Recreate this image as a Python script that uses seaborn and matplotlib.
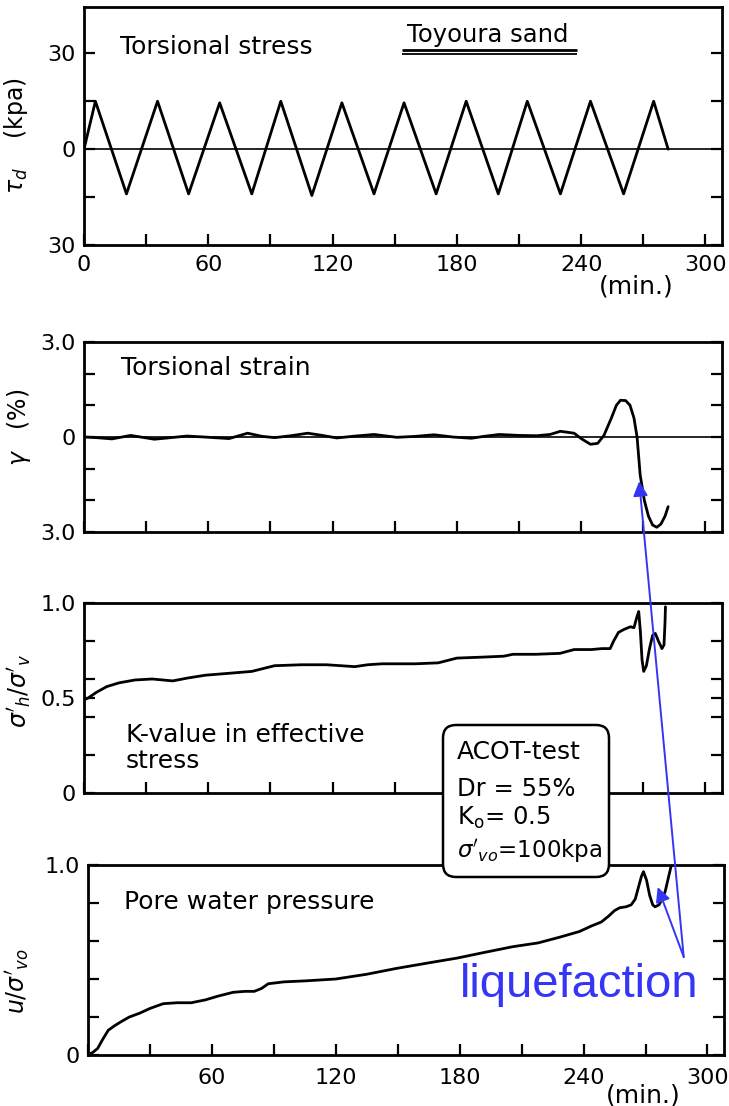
import matplotlib
matplotlib.use("Agg")
import matplotlib.pyplot as plt
import seaborn as sns
from matplotlib.patches import FancyBboxPatch, ConnectionPatch

# ---------------- data ----------------
t_stress = [0, 5.5, 20.5, 35.5, 50.5, 65.5, 81, 95, 110, 124.5, 140, 154.5, 170,
            184.5, 200, 214, 230, 244.5, 260.5, 275, 282]
stress = [0, 15, -14, 15, -14, 14.5, -14, 15, -14.5, 14.5, -14, 14.5, -14,
          15, -14, 15, -14, 15, -14, 15, 0]

t_strain = [0, 6, 13.5, 22.5, 34, 42, 49.6, 58, 70, 79, 86, 92, 100, 108, 115, 122,
            131, 140, 151, 160, 169, 178, 187, 193, 200.5, 210, 218.6, 225, 230, 236.6,
            240, 244.5, 248, 251, 254.6, 257, 259, 261.5, 263.6, 265.5, 267, 268.5,
            270.5, 272.5, 274.5, 276.5, 278.5, 280.5, 282]
strain = [0, -0.02, -0.06, 0.05, -0.07, -0.02, 0.03, 0.0, -0.05, 0.12, 0.02, -0.02,
          0.04, 0.12, 0.05, -0.03, 0.03, 0.08, -0.01, 0.02, 0.07, 0.0, -0.04, 0.02,
          0.08, 0.05, 0.04, 0.08, 0.18, 0.12, -0.05, -0.23, -0.2, 0.05, 0.6, 1.0,
          1.16, 1.15, 1.0, 0.6, 0.0, -1.2, -2.0, -2.5, -2.78, -2.85, -2.75, -2.5, -2.2]

t_k = [0, 2, 6, 11, 17, 24.7, 33, 42.8, 50, 58.6, 70, 81, 92, 105, 117, 124, 130.7,
       137, 144, 160, 171, 180, 192, 202.7, 207, 218, 229.8, 236.6, 245, 250, 254,
       255.7, 258, 260.5, 263.8, 265.5, 267, 267.8, 268.6, 269.4, 270.2, 271.5, 273,
       274.5, 275.8, 277.3, 279, 280, 280.5, 280.7]
k_value = [0.49, 0.5, 0.53, 0.56, 0.58, 0.595, 0.6, 0.59, 0.605, 0.62, 0.63, 0.64,
           0.67, 0.675, 0.675, 0.67, 0.665, 0.675, 0.68, 0.68, 0.685, 0.71, 0.715,
           0.72, 0.73, 0.73, 0.735, 0.755, 0.755, 0.76, 0.76, 0.8, 0.845, 0.86, 0.875,
           0.87, 0.93, 0.955, 0.85, 0.7, 0.64, 0.67, 0.76, 0.83, 0.84, 0.8, 0.76,
           0.78, 0.9, 0.98]

t_pwp = [0, 2.5, 4.7, 7, 9.8, 13, 16, 20, 25, 30, 36.4, 43, 50, 56.8, 63, 70.3, 76,
         80.5, 84, 87.3, 95, 105, 120, 135, 149, 165, 178.7, 192, 205.7, 218, 228.4,
         238, 244, 248.6, 252, 255, 257.5, 260.5, 263, 265, 266.5, 268, 269, 270.5,
         272, 273.5, 274.6, 276.5, 278, 279.5, 281, 282.5]
pwp = [0, 0.015, 0.035, 0.08, 0.13, 0.155, 0.175, 0.2, 0.22, 0.245, 0.27, 0.275,
       0.275, 0.29, 0.31, 0.33, 0.335, 0.335, 0.35, 0.375, 0.385, 0.39, 0.40, 0.425,
       0.455, 0.485, 0.51, 0.54, 0.57, 0.59, 0.62, 0.65, 0.68, 0.70, 0.73, 0.76,
       0.775, 0.78, 0.79, 0.82, 0.88, 0.94, 0.965, 0.92, 0.84, 0.79, 0.78, 0.79,
       0.82, 0.86, 0.93, 1.0]

time_ticks = [0, 30, 60, 90, 120, 150, 180, 210, 240, 270, 300]
time_labels = ["0", "", "60", "", "120", "", "180", "", "240", "", "300"]
time_labels_bottom = ["", "", "60", "", "120", "", "180", "", "240", "", "300"]

# ---------------- style ----------------
sns.set_style("ticks")
plt.rcParams["font.family"] = ["DejaVu Sans"]
plt.rcParams["mathtext.fontset"] = "dejavusans"
for key in ("text.color", "axes.labelcolor", "xtick.color", "ytick.color",
            "axes.edgecolor"):
    plt.rcParams[key] = "black"

BLUE = "#3535f5"
W, H = 729, 1106
fig = plt.figure(figsize=(W / 100, H / 100), dpi=100)


def add_ax(left, top, right, bottom):
    return fig.add_axes([left / W, 1 - bottom / H, (right - left) / W, (bottom - top) / H])


ax1 = add_ax(84, 7, 722, 245)
ax2 = add_ax(84, 342, 722, 532)
ax3 = add_ax(84, 603, 722, 793)
ax4 = add_ax(88, 865, 724, 1055)

for ax in (ax1, ax2, ax3, ax4):
    for s in ax.spines.values():
        s.set_linewidth(2.0)
        s.set_color("black")
    ax.tick_params(direction="in", length=8, width=1.6, labelsize=16,
                   left=True, right=True, bottom=True, top=False,
                   colors="black", labelcolor="black")
    ax.set_xlim(0, 308)
    ax.set_xticks(time_ticks)

lw = 2.0
TXT = 18
# panel 1
sns.lineplot(x=t_stress, y=stress, ax=ax1, color="black", lw=lw, sort=False, estimator=None)
ax1.axhline(0, color="black", lw=1.2)
ax1.set_ylim(-30, 44.5)
ax1.set_yticks([-30, -15, 0, 15, 30])
ax1.set_yticklabels(["30", "", "0", "", "30"])
ax1.set_xticklabels(time_labels)
ax1.tick_params(axis="x", pad=7)
ax1.tick_params(axis="y", pad=6)
ax1.set_ylabel(r"$\tau_d$    (kpa)", fontsize=17)
ax1.yaxis.set_label_coords(-0.085, 0.46)
ax1.text(17.4, 31.9, "Torsional stress", fontsize=TXT, va="center", ha="left")
ax1.text(156, 35.6, "Toyoura sand", fontsize=17.5, va="center", ha="left")
ax1.hlines(30.9, 153.5, 238, color="black", lw=2.0)
ax1.hlines(29.7, 153.5, 238, color="black", lw=1.3)
ax1.text(266.5, -0.175, "(min.)", transform=ax1.get_xaxis_transform(),
         fontsize=18, ha="center", va="center")

# panel 2
sns.lineplot(x=t_strain, y=strain, ax=ax2, color="black", lw=lw, sort=False, estimator=None)
ax2.axhline(0, color="black", lw=1.2)
ax2.set_ylim(-3, 3)
ax2.set_yticks([-3, -2, -1, 0, 1, 2, 3])
ax2.set_yticklabels(["3.0", "", "", "0", "", "", "3.0"])
ax2.set_xticklabels([])
ax2.tick_params(axis="y", pad=6)
ax2.set_ylabel(r"$\gamma$   (%)", fontsize=17)
ax2.yaxis.set_label_coords(-0.08, 0.55)
ax2.text(17.9, 2.18, "Torsional strain", fontsize=TXT, va="center", ha="left")

# panel 3
sns.lineplot(x=t_k, y=k_value, ax=ax3, color="black", lw=lw, sort=False, estimator=None)
ax3.set_ylim(0, 1)
ax3.set_yticks([0, 0.2, 0.4, 0.5, 0.6, 0.8, 1.0])
ax3.set_yticklabels(["0", "", "", "0.5", "", "", "1.0"])
ax3.set_xticklabels([])
ax3.tick_params(axis="y", pad=6)
ax3.set_ylabel(r"$\sigma'_h/\sigma'_v$", fontsize=17)
ax3.yaxis.set_label_coords(-0.08, 0.54)
ax3.text(20.3, 0.235, "K-value in effective\nstress", fontsize=TXT, va="center",
         ha="left", linespacing=1.1)

# panel 4
sns.lineplot(x=t_pwp, y=pwp, ax=ax4, color="black", lw=lw, sort=False, estimator=None)
ax4.set_ylim(0, 1)
ax4.set_yticks([0, 0.2, 0.4, 0.6, 0.8, 1.0])
ax4.set_yticklabels(["0", "", "", "", "", "1.0"])
ax4.set_xticklabels(time_labels_bottom)
ax4.tick_params(axis="x", pad=9)
ax4.tick_params(axis="y", pad=6)
ax4.set_ylabel(r"$u/\sigma'_{vo}$", fontsize=17)
ax4.yaxis.set_label_coords(-0.09, 0.39)
ax4.text(17.4, 0.805, "Pore water pressure", fontsize=TXT, va="center", ha="left")
ax4.text(269, -0.215, "(min.)", transform=ax4.get_xaxis_transform(),
         fontsize=18, ha="center", va="center")

for ax in (ax1, ax2, ax3, ax4):
    ax.set_xlabel("")

# info box (figure inches, origin bottom-left)
box = FancyBboxPatch((4.43, (H - 877) / 100), 1.66, 1.52,
                     boxstyle="round,pad=0,rounding_size=0.13",
                     transform=fig.dpi_scale_trans, fc="white", ec="black",
                     lw=1.8, zorder=10)
fig.add_artist(box)
box_lines = ["ACOT-test", "Dr = 55%", r"K$_\mathregular{o}$= 0.5",
             r"$\sigma'_{vo}$=100kpa"]
box_sizes = [18, 17.5, 17.5, 16.5]
box_y = [752, 789, 818, 852]
for s, fs, yy in zip(box_lines, box_sizes, box_y):
    fig.text(457 / W, 1 - yy / H, s, fontsize=fs, ha="left", va="center", zorder=11)

# liquefaction annotation
ax4.text(180, 0.37, "liquefaction", fontsize=34, color=BLUE, ha="left", va="center",
         family=["Liberation Sans", "DejaVu Sans"], zorder=12)
start = (288.5, 0.516)
arr1 = ConnectionPatch(xyA=start, coordsA=ax4.transData, xyB=(275.9, 0.884),
                       coordsB=ax4.transData, arrowstyle="-|>", color=BLUE, lw=1.4,
                       mutation_scale=22, zorder=12)
arr2 = ConnectionPatch(xyA=start, coordsA=ax4.transData, xyB=(268, -1.4),
                       coordsB=ax2.transData, arrowstyle="-|>", color=BLUE, lw=1.4,
                       mutation_scale=22, zorder=12)
fig.add_artist(arr1)
fig.add_artist(arr2)

fig.savefig("out.png", dpi=100)
